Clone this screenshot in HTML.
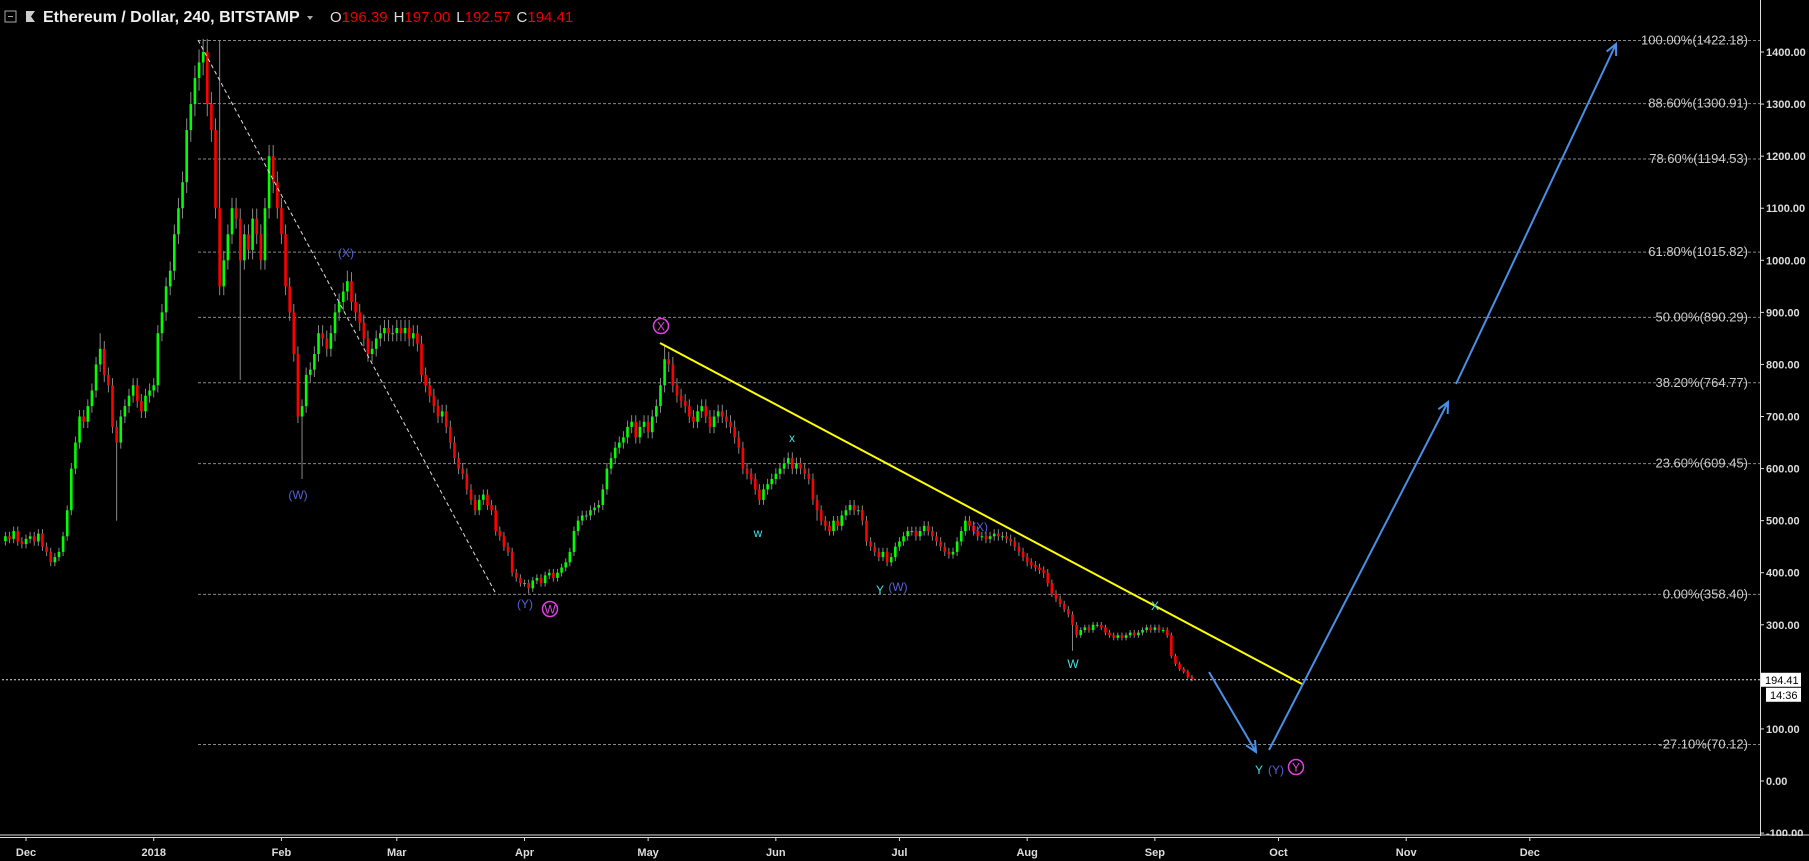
<!DOCTYPE html>
<html><head><meta charset="utf-8"><style>
html,body{margin:0;padding:0;background:#000;width:1809px;height:861px;overflow:hidden}
svg{display:block}
text{font-family:"Liberation Sans",sans-serif}
</style></head><body>
<svg id="chart" width="1809" height="861" viewBox="0 0 1809 861" xmlns="http://www.w3.org/2000/svg">
<rect width="1809" height="861" fill="#000"/>
<g id="fib"></g>
<g id="candles"></g>
<g id="overlay"></g>
<g id="axes"></g>
<g>
<rect x="5" y="11" width="11" height="11" fill="none" stroke="#aaa"/>
<line x1="8" y1="16.5" x2="13" y2="16.5" stroke="#aaa"/>
<path d="M26 11 h9 l-4 5.5 4 5.5 h-9z" fill="#ccc"/>
<text x="43" y="22" fill="#eee" font-size="16" font-weight="bold">Ethereum / Dollar, 240, BITSTAMP</text>
<path d="M307 16 l6 0 -3 4z" fill="#aaa"/>
<text x="330" y="22" font-size="15"><tspan fill="#ddd">O</tspan><tspan fill="#e00">196.39</tspan><tspan fill="#ddd" dx="6">H</tspan><tspan fill="#e00">197.00</tspan><tspan fill="#ddd" dx="6">L</tspan><tspan fill="#e00">192.57</tspan><tspan fill="#ddd" dx="6">C</tspan><tspan fill="#e00">194.41</tspan></text>
</g>
</svg>
<script>
// daily closes from 2017-11-26 (day -5)
const startDay = -5;
const closes = [470,465,480,460,455,
465,470,460,475,450,440,420,430,440,470,
520,600,650,700,690,720,750,800,830,780,
760,680,650,700,720,740,760,730,710,740,750,
760,860,900,950,980,1050,1100,1150,1250,1300,
1350,1380,1400,1300,1250,1100,950,1000,1050,1100,
1080,1000,1050,1020,1080,1050,1000,1100,1200,1150,1100,
1050,950,900,820,700,720,780,790,820,860,
850,830,860,900,920,940,960,920,900,880,
850,820,830,850,860,870,860,860,
870,860,870,850,860,840,780,760,740,720,
700,710,680,650,620,600,590,560,540,520,
540,550,530,520,480,470,450,440,400,390,380,
380,370,385,390,380,395,400,390,400,410,
420,440,480,500,510,510,520,525,530,560,
600,620,640,650,660,680,690,660,680,690,
670,700,720,760,810,800,760,740,730,720,
700,690,710,720,700,680,700,710,700,690,
680,660,640,600,590,580,560,540,560,570,580,
590,600,610,620,600,610,600,590,580,540,
520,500,490,480,500,490,510,520,530,520,
520,500,460,450,440,430,440,420,430,450,
460,470,480,480,470,480,490,480,470,460,
450,440,435,440,460,480,500,490,480,470,
470,465,470,475,470,470,465,460,450,440,430,
420,415,410,405,400,380,360,350,340,330,
320,300,280,290,295,290,300,300,295,285,
280,275,280,275,280,285,280,285,290,295,290,
295,290,290,280,240,225,215,210,200,195];
const wickDays = [18, 22, 47, 52, 67, 78, 122, 155, 192, 247, 254];
const wickPrices = [860, 500, 1422, 770, 580, 980, 360, 835, 500, 390, 250];
const fibPct = ["100.00%","88.60%","78.60%","61.80%","50.00%","38.20%","23.60%","0.00%","-27.10%"];
const fibPrice = [1422.18,1300.91,1194.53,1015.82,890.29,764.77,609.45,358.40,70.12];
const priceTicks = [1400,1300,1200,1100,1000,900,800,700,600,500,400,300,100,0,-100];
const monthLabels = ["Dec","2018","Feb","Mar","Apr","May","Jun","Jul","Aug","Sep","Oct","Nov","Dec"];
const monthDays = [0,31,62,90,121,151,182,212,243,274,304,335,365];
const lastPrice = 194.41;

const NS="http://www.w3.org/2000/svg";
const X = d => 26 + 4.12*d;
const Y = p => 781 - p*0.5207;
function mk(parent, tag, attrs){const e=document.createElementNS(NS,tag);for(const k in attrs)e.setAttribute(k,attrs[k]);parent.appendChild(e);return e;}

// fib levels
const fib=document.getElementById('fib');
fibPrice.forEach((p,i)=>{
  const l=mk(fib,'line',{x1:198,x2:1760,y1:Y(p),y2:Y(p),stroke:'#888','stroke-dasharray':'3,2'});
  
  
  const t=mk(fib,'text',{x:1748,y:Y(p)+4,fill:'#ccc','font-size':13,'text-anchor':'end'});
  t.textContent=fibPct[i]+'('+p.toFixed(2)+')';
  
  
});

// candles
const cg=document.getElementById('candles');
for(let i=0;i<closes.length;i++){
  const d=startDay+i, c=closes[i], o=i>0?closes[i-1]:c*0.98;
  let hi=Math.max(o,c)*1.018, lo=Math.min(o,c)*0.982;
  const w=wickDays.indexOf(d);
  if(w>=0){ if(wickPrices[w]>Math.max(o,c)) hi=wickPrices[w]; else lo=wickPrices[w]; }
  const x=X(d);
  const wl=mk(cg,'line',{x1:x,x2:x,y1:Y(hi),y2:Y(lo),stroke:'#888','stroke-width':1});
  
  
  const up=c>=o;
  const top=Y(Math.max(o,c)), h=Math.max(1,Math.abs(Y(o)-Y(c)));
  const b=mk(cg,'rect',{x:x-1.3,y:top,width:2.6,height:h,fill:up?'#00ff00':'#ff0000'});
  
  
}

// overlays
const ov=document.getElementById('overlay');
mk(ov,'line',{x1:198,y1:40,x2:496,y2:594,stroke:'#ddd','stroke-dasharray':'4,3',});
mk(ov,'line',{x1:1760,x2:0,y1:Y(lastPrice),y2:Y(lastPrice),stroke:'#ddd','stroke-dasharray':'2,2',});
mk(ov,'line',{x1:660,y1:343,x2:1302,y2:684,stroke:'#ffff00','stroke-width':2,});
function arrow(x1,y1,x2,y2){
  const g=mk(ov,'g',{});
  
  
  mk(g,'line',{x1,y1,x2,y2,stroke:'#4a8fe7','stroke-width':2});
  const a=Math.atan2(y2-y1,x2-x1),L=12;
  mk(g,'polyline',{points:`${x2-L*Math.cos(a-0.45)},${y2-L*Math.sin(a-0.45)} ${x2},${y2} ${x2-L*Math.cos(a+0.45)},${y2-L*Math.sin(a+0.45)}`,fill:'none',stroke:'#4a8fe7','stroke-width':2});
}
arrow(1209,672,1256,752);arrow(1269,750,1448,402);arrow(1456,384,1616,44);
function lab(txt,x,y,col,name){const t=mk(ov,'text',{x,y,fill:col,'font-size':12,'text-anchor':'middle'});t.textContent=txt;}
function circ(txt,x,y,name){const g=mk(ov,'g',{});mk(g,'circle',{cx:x,cy:y,r:7.5,fill:'none',stroke:'#e040e0','stroke-width':1.5});const t=mk(g,'text',{x,y:y+4.5,fill:'#e040e0','font-size':12,'text-anchor':'middle'});t.textContent=txt;}
lab('(X)',346,257,'#5560d8','wave-label-x1');
lab('(W)',298,499,'#5560d8','wave-label-w1');
lab('(Y)',525,608,'#5560d8','wave-label-y1');
circ('W',550,609,'wave-circle-w');
circ('X',661,326,'wave-circle-x');
lab('x',792,442,'#40e0e0','wave-label-x2');
lab('w',758,537,'#40e0e0','wave-label-w2');
lab('(X)',980,531,'#5560d8','wave-label-x3');
lab('Y',880,594,'#40e0e0','wave-label-y2');
lab('(W)',898,591,'#5560d8','wave-label-w3');
lab('W',1073,668,'#40e0e0','wave-label-w4');
lab('X',1155,610,'#40e0e0','wave-label-x4');
lab('Y',1259,774,'#40e0e0','wave-label-y3');
lab('(Y)',1276,774,'#5560d8','wave-label-y4');
circ('Y',1296,767,'wave-circle-y');

// axes
const ax=document.getElementById('axes');
mk(ax,'rect',{x:1761,y:0,width:48,height:861,fill:'#000'});
priceTicks.forEach(p=>{
  const y=Y(p);
  mk(ax,'line',{x1:1760,x2:1764,y1:y,y2:y,stroke:'#ddd'});
  const t=mk(ax,'text',{x:1766,y:y+4,fill:'#ddd','font-size':11,'font-weight':'bold'});
  t.textContent=p.toFixed(2);
  
  
});
mk(ax,'rect',{x:0,y:836,width:1809,height:25,fill:'#000'});
mk(ax,'line',{x1:1760.5,x2:1760.5,y1:0,y2:836,stroke:'#ddd'});
mk(ax,'line',{x1:0,x2:1809,y1:835,y2:835,stroke:'#ddd'});
mk(ax,'line',{x1:0,x2:1760,y1:837.5,y2:837.5,stroke:'#ddd'});
monthDays.forEach((d,i)=>{
  const x=X(d);
  mk(ax,'line',{x1:x,x2:x,y1:837,y2:841,stroke:'#ddd'});
  const t=mk(ax,'text',{x,y:856,fill:'#ddd','font-size':11,'font-weight':'bold','text-anchor':'middle'});
  t.textContent=monthLabels[i];
  
  
});
const ly=Y(lastPrice);
mk(ax,'rect',{x:1761,y:ly-7,width:40,height:14,fill:'#fff',});
const lt=mk(ax,'text',{x:1765,y:ly+4,fill:'#000','font-size':11});lt.textContent=lastPrice.toFixed(2);
mk(ax,'rect',{x:1766,y:ly+8,width:35,height:14,fill:'#fff',});
const ct=mk(ax,'text',{x:1770,y:ly+19,fill:'#000','font-size':11});ct.textContent='14:36';
</script>
</body></html>
